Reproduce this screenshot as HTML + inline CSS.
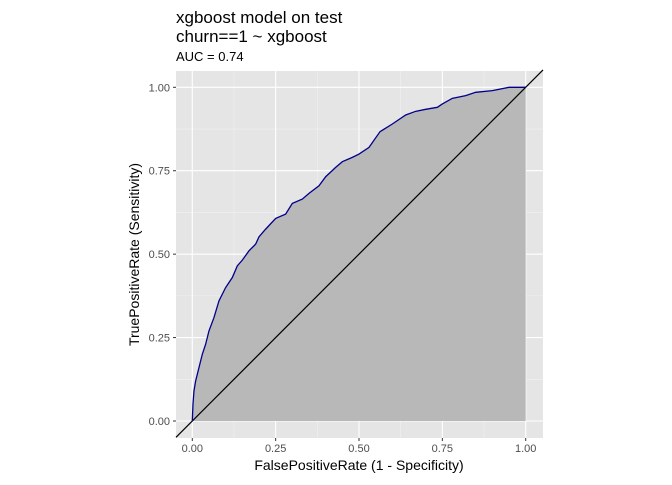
<!DOCTYPE html>
<html><head><meta charset="utf-8"><style>
body{margin:0;background:#fff;}
svg text{font-family:"Liberation Sans",Arial,sans-serif;}
</style></head><body>
<svg id="chart" width="672" height="480" viewBox="0 0 672 480">
<text x="176" y="23" font-size="17" fill="#000">xgboost model on test</text>
<text x="176" y="42" font-size="17" fill="#000">churn==1 ~ xgboost</text>
<text x="176" y="61" font-size="13" fill="#000">AUC = 0.74</text>
<rect x="176" y="71" width="367" height="367" fill="#e5e5e5"/>
<g id="grid"></g>
<g id="marks"></g>
<g id="axes"></g>
<text x="359" y="470" font-size="14" text-anchor="middle" fill="#000">FalsePositiveRate (1 - Specificity)</text>
<text transform="translate(139,254.5) rotate(-90)" font-size="14" text-anchor="middle" fill="#000">TruePositiveRate (Sensitivity)</text>
</svg>
<script>
const fpr=[0,0.002,0.005,0.01,0.02,0.03,0.04,0.05,0.065,0.08,0.1,0.12,0.135,0.15,0.17,0.19,0.2,0.22,0.25,0.28,0.3,0.33,0.35,0.38,0.4,0.43,0.45,0.48,0.5,0.53,0.563,0.6,0.64,0.67,0.7,0.735,0.75,0.78,0.82,0.85,0.9,0.95,1];
const tpr=[0,0.05,0.09,0.12,0.16,0.2,0.23,0.27,0.31,0.36,0.4,0.43,0.465,0.482,0.51,0.53,0.552,0.575,0.607,0.62,0.652,0.665,0.682,0.705,0.732,0.76,0.777,0.79,0.80,0.82,0.867,0.89,0.917,0.928,0.934,0.94,0.95,0.967,0.975,0.985,0.99,1,1];
const ticks=[0,0.25,0.5,0.75,1];
const tickLabels=["0.00","0.25","0.50","0.75","1.00"];
const NS="http://www.w3.org/2000/svg";
const X=v=>192.3+v*333.4, Y=v=>421-v*333.7;
function mk(t,a,p){const e=document.createElementNS(NS,t);for(const k in a)e.setAttribute(k,a[k]);p.appendChild(e);return e;}
const grid=document.getElementById('grid'),marks=document.getElementById('marks'),axes=document.getElementById('axes');
const minor=[-0.125,0.125,0.375,0.625,0.875,1.125];
minor.forEach(v=>{
 if(X(v)>176&&X(v)<543){const l=mk('line',{x1:X(v),x2:X(v),y1:71,y2:438,stroke:'#f2f2f2','stroke-width':0.6},grid);}
 if(Y(v)>71&&Y(v)<438){const l=mk('line',{x1:176,x2:543,y1:Y(v),y2:Y(v),stroke:'#f2f2f2','stroke-width':0.6},grid);}
});
ticks.forEach((v,i)=>{
 let l=mk('line',{x1:X(v),x2:X(v),y1:71,y2:438,stroke:'#fff','stroke-width':1.1},grid);
 
 l=mk('line',{x1:176,x2:543,y1:Y(v),y2:Y(v),stroke:'#fff','stroke-width':1.1},grid);
 
 l=mk('line',{x1:X(v),x2:X(v),y1:438,y2:441,stroke:'#333'},axes);
 
 l=mk('line',{x1:173,x2:176,y1:Y(v),y2:Y(v),stroke:'#333'},axes);
 
 let t=mk('text',{x:X(v),y:452,'font-size':11,'text-anchor':'middle',fill:'#4d4d4d'},axes);t.textContent=tickLabels[i];
 
 t=mk('text',{x:170,y:Y(v)+4,'font-size':11,'text-anchor':'end',fill:'#4d4d4d'},axes);t.textContent=tickLabels[i];
 
});
let pts=fpr.map((f,i)=>X(f)+','+Y(tpr[i]));
const area=mk('polygon',{points:pts.join(' ')+' '+X(1)+','+Y(0)+' '+X(0)+','+Y(0),fill:'#b8b8b8'},marks);

const diag=mk('line',{x1:176,y1:Y((176-192.3)/333.4),x2:543,y2:Y((543-192.3)/333.4),stroke:'#000','stroke-width':1.2},marks);

const curve=mk('polyline',{points:pts.join(' '),fill:'none',stroke:'#00008b','stroke-width':1.3},marks);

</script>
</body></html>
